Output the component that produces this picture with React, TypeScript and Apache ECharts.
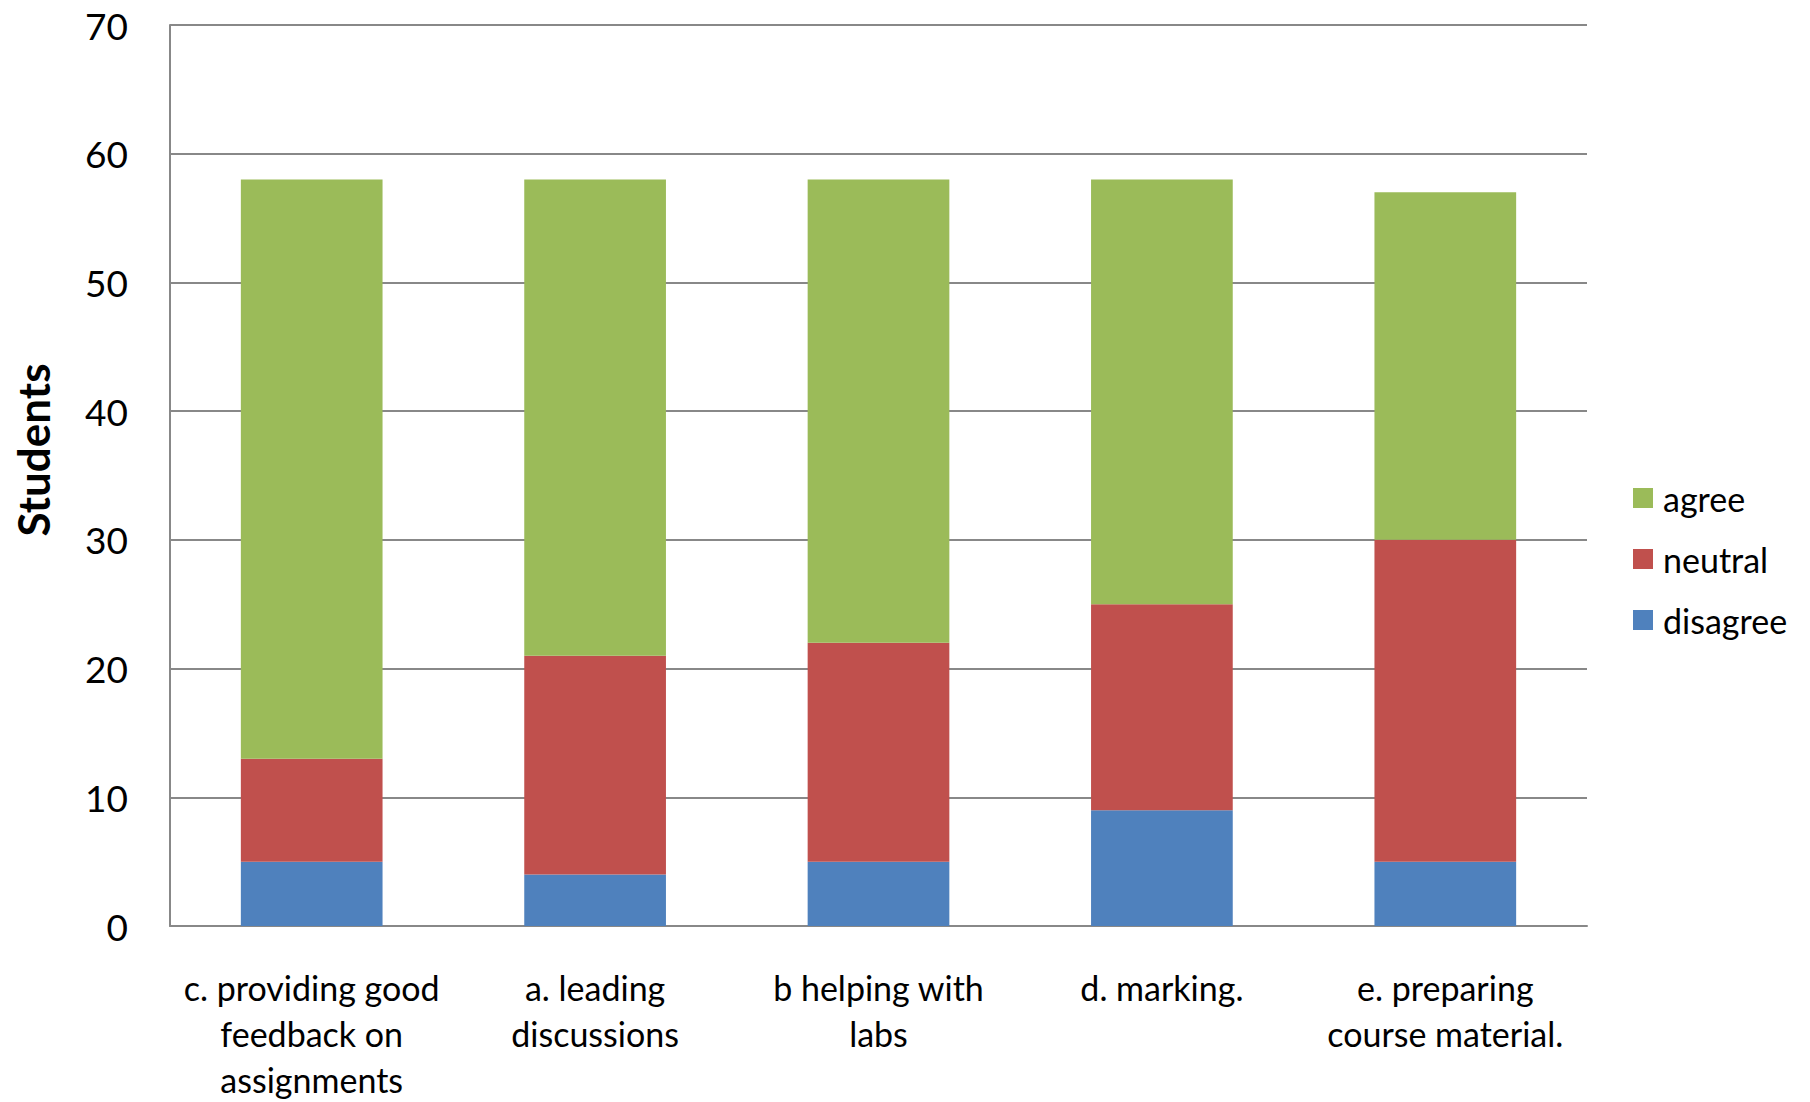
import React, { useEffect, useRef } from "react";
import * as echarts from "echarts";

const categories = [
  "c. providing good\nfeedback on\nassignments",
  "a. leading\ndiscussions",
  "b helping with\nlabs",
  "d. marking.",
  "e. preparing\ncourse material.",
];
const disagree = [5, 4, 5, 9, 5];
const neutral = [8, 17, 17, 16, 25];
const agree = [45, 37, 36, 33, 27];
const legendOrder = ["agree", "neutral", "disagree"];

const FONT = "Lato, 'Open Sans', sans-serif";

export default function App() {
  const ref = useRef<HTMLDivElement>(null);
  useEffect(() => {
    if (!ref.current) return;
    const chart = echarts.init(ref.current, undefined, { renderer: "svg" });
    const gridColor = "#888888";
    chart.setOption({
      animation: false,
      backgroundColor: "#ffffff",
      textStyle: { fontFamily: FONT, color: "#000" },
      grid: { left: 170, right: 223, top: 25, bottom: 169, containLabel: false },
      legend: {
        data: legendOrder,
        orient: "vertical",
        left: 1628,
        top: 473,
        itemWidth: 20,
        itemHeight: 20,
        itemGap: 21,
        icon: "rect",
        textStyle: { fontSize: 34, fontFamily: FONT, color: "#000", lineHeight: 40, padding: [0, 0, 0, 5] },
      },
      xAxis: {
        type: "category",
        data: categories,
        axisLine: { show: true, lineStyle: { color: gridColor, width: 2 } },
        axisTick: { show: false },
        axisLabel: {
          interval: 0,
          fontSize: 34,
          lineHeight: 46,
          margin: 38,
          color: "#000",
          fontFamily: FONT,
        },
      },
      yAxis: {
        type: "value",
        min: 0,
        max: 70,
        interval: 10,
        axisLine: { show: true, lineStyle: { color: gridColor, width: 2 } },
        axisTick: { show: false },
        splitLine: { show: true, lineStyle: { color: gridColor, width: 2 } },
        axisLabel: { fontSize: 37, margin: 42, color: "#000", fontFamily: FONT },
      },
      graphic: [
        {
          type: "text",
          x: 33,
          y: 450,
          rotation: Math.PI / 2,
          style: {
            text: "Students",
            fontSize: 44,
            fontWeight: "bold",
            fontFamily: FONT,
            fill: "#000",
            textAlign: "center",
            textVerticalAlign: "middle",
          },
        },
      ],
      series: [
        { name: "disagree", type: "bar", stack: "s", data: disagree, barWidth: "50%", itemStyle: { color: "#4F81BD" } },
        { name: "neutral", type: "bar", stack: "s", data: neutral, barWidth: "50%", itemStyle: { color: "#C0504D" } },
        { name: "agree", type: "bar", stack: "s", data: agree, barWidth: "50%", itemStyle: { color: "#9BBB59" } },
      ],
    });
    return () => chart.dispose();
  }, []);
  return (
    <div
      ref={ref}
      style={{ position: "fixed", left: 0, top: 0, width: 1810, height: 1102, background: "#fff" }}
    />
  );
}
